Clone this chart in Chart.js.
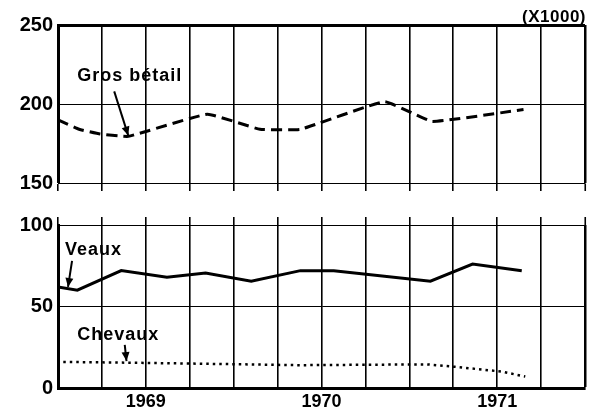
<!DOCTYPE html>
<html>
<head>
<meta charset="utf-8">
<script src="https://cdn.jsdelivr.net/npm/chart.js@4/dist/chart.umd.min.js"></script>
<style>
html,body{margin:0;padding:0;background:#fff;width:589px;height:412px;overflow:hidden;}
canvas{position:absolute;left:0;}
#top{top:0;}
#bot{top:200px;}
</style>
</head>
<body>
<canvas id="top" width="589" height="200"></canvas>
<canvas id="bot" width="589" height="212"></canvas>
<script>
// ---- data (x in decimal years, y in thousands) ----
const yearTicks = [1969, 1970, 1971];
const xMin = 1968.5, xMax = 1971.5;

const grosX = [1968.5, 1968.62, 1968.74, 1968.9, 1969.35, 1969.65, 1969.88, 1970.36, 1970.63, 1971.15];
const grosY = [190, 184, 181, 179.5, 193.5, 184, 184, 201.5, 189, 196.5];

const veauxX = [1968.5, 1968.61, 1968.86, 1969.12, 1969.34, 1969.6, 1969.88, 1970.07, 1970.62, 1970.86, 1971.14];
const veauxY = [62, 60, 72, 68, 70.5, 65.5, 72, 72, 65.5, 76, 72];

const chevX = [1968.53, 1968.93, 1969.88, 1970.6, 1970.76, 1971.03, 1971.16];
const chevY = [16, 15.5, 14, 14.5, 13, 10, 7];

const topTicks = [150, 200, 250];
const botTicks = [0, 50, 100];

const FONT = "'Liberation Sans', Arial, sans-serif";
const pts = (xs, ys) => xs.map((x, i) => ({x, y: ys[i]}));

function xGrid(){
  return {
    color: '#000',
    lineWidth: c => (c.tick && Math.abs(c.tick.value - xMax) < 1e-6) ? 2.5 : 1.6,
    tickLength: 8,
    tickWidth: 1.6,
    tickColor: '#000'
  };
}

function drawArrow(ctx, x1, y1, x2, y2){
  ctx.save();
  ctx.strokeStyle = '#000'; ctx.fillStyle = '#000'; ctx.lineWidth = 2;
  ctx.beginPath(); ctx.moveTo(x1, y1); ctx.lineTo(x2, y2); ctx.stroke();
  const a = Math.atan2(y2 - y1, x2 - x1), L = 9, W = 4;
  ctx.beginPath();
  ctx.moveTo(x2, y2);
  ctx.lineTo(x2 - L*Math.cos(a) + W*Math.sin(a), y2 - L*Math.sin(a) - W*Math.cos(a));
  ctx.lineTo(x2 - L*Math.cos(a) - W*Math.sin(a), y2 - L*Math.sin(a) + W*Math.cos(a));
  ctx.closePath(); ctx.fill();
  ctx.restore();
}

function label(ctx, text, x, y, size, spacing, align){
  ctx.save();
  ctx.fillStyle = '#000';
  ctx.font = 'bold ' + size + 'px ' + FONT;
  ctx.textBaseline = 'middle';
  ctx.textAlign = align || 'left';
  try { ctx.letterSpacing = spacing + 'px'; } catch(e) {}
  ctx.fillText(text, x, y);
  ctx.restore();
}

const topNotes = {
  id: 'topNotes',
  afterDraw(chart){
    const {ctx, scales:{x, y}, chartArea} = chart;
    label(ctx, 'Gros bétail', x.getPixelForValue(1968.61), y.getPixelForValue(217.5), 18, 1);
    drawArrow(ctx, x.getPixelForValue(1968.82), y.getPixelForValue(208), x.getPixelForValue(1968.9), y.getPixelForValue(180));
    label(ctx, '(X1000)', chartArea.right + 1, chartArea.top - 8, 17, 0.5, 'right');
  }
};

const botNotes = {
  id: 'botNotes',
  afterDraw(chart){
    const {ctx, scales:{x, y}} = chart;
    label(ctx, 'Veaux', x.getPixelForValue(1968.54), y.getPixelForValue(84.7), 18, 1);
    drawArrow(ctx, x.getPixelForValue(1968.58), y.getPixelForValue(78), x.getPixelForValue(1968.557), y.getPixelForValue(62));
    label(ctx, 'Chevaux', x.getPixelForValue(1968.61), y.getPixelForValue(32.5), 18, 1);
    drawArrow(ctx, x.getPixelForValue(1968.88), y.getPixelForValue(26.5), x.getPixelForValue(1968.89), y.getPixelForValue(16.5));
  }
};

const yTickFont = {family: FONT, size: 20, weight: 'bold'};

new Chart(document.getElementById('top'), {
  type: 'line',
  data: {
    datasets: [{
      label: 'Gros bétail',
      data: pts(grosX, grosY),
      borderColor: '#000', borderWidth: 3, borderDash: [11, 6],
      pointRadius: 0, tension: 0.1, fill: false
    }]
  },
  options: {
    responsive: false, animation: false, devicePixelRatio: 1,
    layout: {padding: {top: 25, right: 4, left: 0, bottom: 0}},
    plugins: {legend: {display: false}, tooltip: {enabled: false}},
    scales: {
      x: {
        type: 'linear', min: xMin, max: xMax,
        ticks: {stepSize: 0.25, display: false},
        grid: xGrid(),
        border: {color: '#000', width: 1},
        afterFit: s => { s.height = 12; }
      },
      y: {
        min: 150, max: 250,
        afterBuildTicks: s => { s.ticks = topTicks.map(v => ({value: v})); },
        ticks: {color: '#000', font: yTickFont, padding: 5, callback: v => String(v)},
        grid: {
          color: '#000', drawTicks: false,
          lineWidth: c => c.tick.value === 250 ? 3 : (c.tick.value === 150 ? 0 : 1)
        },
        border: {color: '#000', width: 3},
        afterFit: s => { s.width = 58; }
      }
    }
  },
  plugins: [topNotes]
});

new Chart(document.getElementById('bot'), {
  type: 'line',
  data: {
    datasets: [{
      label: 'Veaux',
      data: pts(veauxX, veauxY),
      borderColor: '#000', borderWidth: 3,
      pointRadius: 0, tension: 0, fill: false
    },{
      label: 'Chevaux',
      data: pts(chevX, chevY),
      borderColor: '#000', borderWidth: 2.5, borderDash: [2.5, 4],
      pointRadius: 0, tension: 0, fill: false
    }]
  },
  options: {
    responsive: false, animation: false, devicePixelRatio: 1,
    layout: {padding: {top: 15, right: 4, left: 0, bottom: 0}},
    plugins: {legend: {display: false}, tooltip: {enabled: false}},
    scales: {
      x: {
        type: 'linear', min: xMin, max: xMax, position: 'bottom',
        ticks: {
          stepSize: 0.25, autoSkip: false, maxRotation: 0, color: '#000', padding: 1,
          font: {family: FONT, size: 18, weight: 'bold'},
          callback: v => yearTicks.some(y => Math.abs(y - v) < 1e-6) ? String(Math.round(v)) : ''
        },
        grid: Object.assign(xGrid(), {tickLength: 2}),
        border: {color: '#000', width: 3},
        afterFit: s => { s.height = 24; }
      },
      x2: {
        type: 'linear', min: xMin, max: xMax, position: 'top',
        ticks: {stepSize: 0.25, display: false},
        grid: Object.assign(xGrid(), {drawOnChartArea: false, tickLength: 8}),
        border: {display: false},
        afterFit: s => { s.height = 10; }
      },
      y: {
        min: 0, max: 100,
        afterBuildTicks: s => { s.ticks = botTicks.map(v => ({value: v})); },
        ticks: {color: '#000', font: yTickFont, padding: 5, callback: v => String(v)},
        grid: {
          color: '#000', drawTicks: false,
          lineWidth: c => c.tick.value === 0 ? 0 : 1
        },
        border: {color: '#000', width: 3},
        afterFit: s => { s.width = 58; }
      }
    }
  },
  plugins: [botNotes]
});
</script>
</body>
</html>
